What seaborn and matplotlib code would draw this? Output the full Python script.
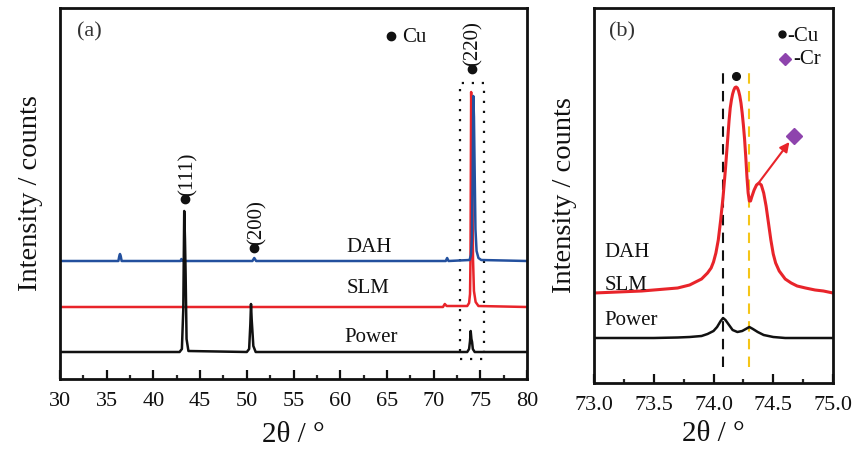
import matplotlib
matplotlib.use("Agg")
import matplotlib.pyplot as plt
from matplotlib.patches import Rectangle
from matplotlib.ticker import MultipleLocator, FormatStrFormatter
import seaborn as sns
import pandas as pd

# ---------------- panel (a): full scan 30-80 deg ----------------
power_a_x = [30, 42.8, 43.05, 43.2, 43.3, 43.38, 43.45, 43.55, 43.75,
             50.0, 50.25, 50.38, 50.45, 50.52, 50.6, 50.7, 50.95,
             73.6, 73.8, 73.9, 73.97, 74.05, 74.12, 74.2, 74.4, 80]
power_a_y = [27, 27, 30, 70, 168, 140, 105, 40, 28,
             27, 30, 55, 75, 60, 48, 33, 27,
             27, 30, 38, 48, 40, 37, 30, 27, 27]

slm_a_x = [30, 71.0, 71.2, 71.4, 73.6, 73.8, 73.9, 73.95, 74.02, 74.08,
           74.15, 74.22, 74.32, 74.5, 74.8, 80]
slm_a_y = [72, 72, 75, 73, 73, 76, 85, 120, 287, 250,
           190, 120, 88, 77, 73, 72]

dah_a_x = [30, 36.25, 36.35, 36.42, 36.5, 36.6, 42.9, 43.0, 43.15,
           50.6, 50.8, 51.0, 71.3, 71.45, 71.6, 73.85, 74.0, 74.1, 74.18,
           74.25, 74.32, 74.4, 74.48, 74.6, 74.8, 75.1, 80]
dah_a_y = [118, 118, 123, 125, 123, 118, 118, 120, 118,
           118, 121, 118, 118, 121, 118, 119, 124, 140, 200,
           283, 262, 205, 150, 128, 121, 119, 118]

# ---------------- panel (b): zoom on the (220) reflection ----------------
red_b_x = [73.0, 73.2, 73.4, 73.5, 73.6, 73.7, 73.8, 73.85, 73.9, 73.95,
           73.98, 74.0, 74.02, 74.04, 74.06, 74.08, 74.10, 74.12, 74.13,
           74.14, 74.15, 74.16, 74.17, 74.18, 74.19, 74.20, 74.21, 74.22,
           74.23, 74.24, 74.25, 74.26, 74.27, 74.28, 74.29, 74.30, 74.31,
           74.32, 74.34, 74.36, 74.38, 74.40, 74.42, 74.44, 74.46, 74.48,
           74.50, 74.52, 74.55, 74.60, 74.65, 74.7, 74.77, 74.85, 74.92, 75.0]
red_b_y = [90, 91, 92, 93, 94, 95, 98, 101, 104, 110,
           115, 121, 130, 143, 163, 186, 214, 246, 262,
           275, 283, 289, 293, 295.5, 296, 295, 292, 287,
           280, 270, 258, 244, 226, 206, 190, 182, 182,
           186, 193, 198, 200, 198, 190, 177, 160, 143,
           129, 120, 112, 104, 100, 97, 95, 93, 92, 90]

black_b_x = [73.0, 73.5, 73.7, 73.8, 73.9, 73.95, 74.0, 74.03, 74.06, 74.08,
             74.1, 74.13, 74.16, 74.2, 74.24, 74.27, 74.3, 74.33, 74.37,
             74.42, 74.5, 74.6, 75.0]
black_b_y = [45, 45, 45.5, 46, 47, 49, 52, 56, 62, 65,
             63, 58, 53, 51, 52, 54, 56, 54, 51,
             48, 46, 45, 45]

cu_line_x = 74.08
cr_line_x = 74.30

sample_labels = ["DAH", "SLM", "Power"]
hkl_labels = ["(111)", "(200)", "(220)"]

BLACK = "#111111"
RED = "#E8242A"
BLUE = "#23509E"
GOLD = "#F5C518"
PURPLE = "#8E44AD"

sns.set_theme(style="ticks")
plt.rcParams["font.family"] = ["Liberation Serif", "DejaVu Serif"]

fig = plt.figure(figsize=(8.53, 4.51), dpi=100)
ax_a = fig.add_axes([60 / 853, 72 / 451, 467 / 853, 371 / 451])
ax_b = fig.add_axes([594 / 853, 68 / 451, 239 / 853, 375 / 451])

# panel (a) curves
df_slm = pd.DataFrame({"x": slm_a_x, "y": slm_a_y})
df_dah = pd.DataFrame({"x": dah_a_x, "y": dah_a_y})
df_pow = pd.DataFrame({"x": power_a_x, "y": power_a_y})
sns.lineplot(data=df_slm, x="x", y="y", ax=ax_a, color=RED, lw=1.8, estimator=None, sort=False)
sns.lineplot(data=df_dah, x="x", y="y", ax=ax_a, color=BLUE, lw=1.8, estimator=None, sort=False)
sns.lineplot(data=df_pow, x="x", y="y", ax=ax_a, color=BLACK, lw=1.8, estimator=None, sort=False)

ax_a.add_patch(Rectangle((72.8, 20), 2.57, 276, fill=False, ec=BLACK,
                         lw=1.6, ls=(0, (1, 3.5))))

txt = dict(color=BLACK, fontsize=15)
ax_a.text(31.8, 343, "(a)", ha="left", va="baseline", color="#333333", fontsize=16)
ax_a.plot([65.4], [343], "o", color=BLACK, ms=6)
ax_a.text(66.6, 336.5, "Cu", ha="left", va="baseline", **txt)

hkl_pos = [(43.4, 180.5, 43.7, 183), (50.8, 131, 51.1, 134), (74.1, 310, 74.2, 313)]
for lab, (dx, dy, tx, ty) in zip(hkl_labels, hkl_pos):
    ax_a.plot([dx], [dy], "o", color=BLACK, ms=6)
    ax_a.text(tx, ty, lab, rotation=90, ha="center", va="bottom", **txt)

for lab, (sx, sy) in zip(sample_labels, [(63.1, 127.4), (63.0, 85.8), (63.3, 37)]):
    ax_a.text(sx, sy, lab, ha="center", va="baseline", **txt)

ax_a.set_xlim(30, 80)
ax_a.set_ylim(0, 371)
ax_a.xaxis.set_major_locator(MultipleLocator(5))
ax_a.xaxis.set_minor_locator(MultipleLocator(2.5))

# panel (b) curves
df_red = pd.DataFrame({"x": red_b_x, "y": red_b_y})
df_blk = pd.DataFrame({"x": black_b_x, "y": black_b_y})
ax_b.axvline(cu_line_x, ymin=16 / 375, ymax=310 / 375, color=BLACK, lw=1.5, ls=(0, (5, 3.5)))
ax_b.axvline(cr_line_x, ymin=16 / 375, ymax=310 / 375, color=GOLD, lw=1.5, ls=(0, (5, 3.5)))
sns.lineplot(data=df_red, x="x", y="y", ax=ax_b, color=RED, lw=2.2, estimator=None, sort=False)
sns.lineplot(data=df_blk, x="x", y="y", ax=ax_b, color=BLACK, lw=1.8, estimator=None, sort=False)

ax_b.text(73.125, 347, "(b)", ha="left", va="baseline", color="#333333", fontsize=16)
ax_b.plot([74.57], [348.7], "o", color=BLACK, ms=5)
ax_b.text(74.62, 342.3, "-Cu", ha="left", va="baseline", **txt)
ax_b.plot([74.6], [324], "D", color=PURPLE, ms=6)
ax_b.text(74.67, 318.7, "-Cr", ha="left", va="baseline", **txt)
ax_b.plot([74.19], [307], "o", color=BLACK, ms=5.5)
ax_b.plot([74.675], [247], "D", color=PURPLE, ms=8)
ax_b.annotate("", xy=(74.635, 241), xytext=(74.383, 201),
              arrowprops=dict(arrowstyle="-|>", color=RED, lw=1.5,
                              mutation_scale=14, shrinkA=0, shrinkB=0))

for lab, sy in zip(sample_labels, [126, 93, 58]):
    ax_b.text(73.09, sy, lab, ha="left", va="baseline", **txt)

ax_b.set_xlim(73, 75)
ax_b.set_ylim(0, 375)
ax_b.xaxis.set_major_locator(MultipleLocator(0.5))
ax_b.xaxis.set_minor_locator(MultipleLocator(0.25))
ax_b.xaxis.set_major_formatter(FormatStrFormatter("%.1f"))

for ax, lpad in ((ax_a, 8), (ax_b, 5)):
    ax.set_yticks([])
    for sp in ax.spines.values():
        sp.set_visible(True)
        sp.set_linewidth(2.0)
        sp.set_color(BLACK)
    ax.tick_params(axis="x", which="major", direction="in", length=6.5, width=1.6,
                   labelsize=16, pad=9, colors=BLACK, top=False)
    ax.tick_params(axis="x", which="minor", direction="in", length=3, width=1.6,
                   top=False)
    ax.set_xlabel("2θ / °", fontsize=21, labelpad=lpad, color=BLACK)
    ax.set_ylabel("Intensity / counts", fontsize=20.5, labelpad=12, color=BLACK)

fig.savefig("out.png", dpi=100)
